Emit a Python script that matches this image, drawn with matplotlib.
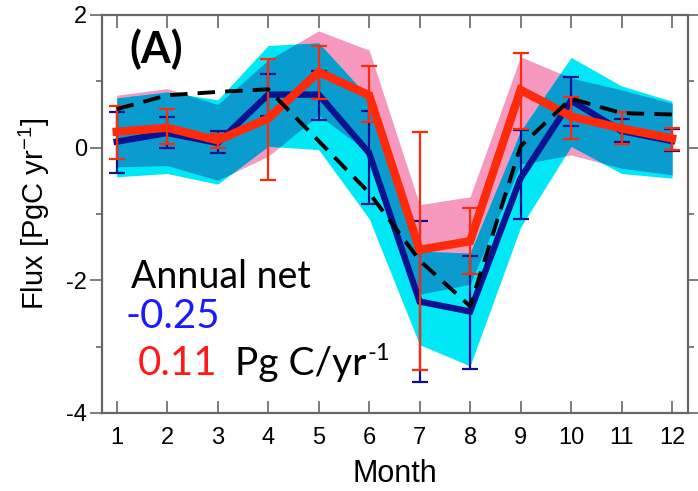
#!/usr/bin/env python3
"""Monthly carbon flux panel (A): two model ensembles with spread bands."""

import numpy as np
import matplotlib
matplotlib.use("Agg")
import matplotlib.pyplot as plt

# === DATA ===
months = np.arange(1, 13)

# red series and its error bars / band
red_flux = np.array([0.24, 0.30, 0.11, 0.44, 1.14, 0.79, -1.54, -1.41, 0.87, 0.47, 0.29, 0.14])
red_err_hi = np.array([0.63, 0.59, 0.21, 1.34, 1.53, 1.23, 0.23, -0.91, 1.43, 0.77, 0.53, 0.29])
red_err_lo = np.array([-0.17, 0.05, 0.00, -0.49, 0.74, 0.38, -3.35, -1.91, 0.28, 0.13, 0.06, -0.03])
red_band_hi = np.array([0.79, 0.89, 0.65, 1.32, 1.76, 1.47, -0.86, -0.74, 1.37, 1.05, 0.87, 0.67])
red_band_lo = np.array([-0.29, -0.27, -0.49, -0.13, 0.49, -0.08, -2.21, -2.06, -0.25, -0.11, -0.31, -0.41])

# navy series and its error bars / band
blue_flux = np.array([0.09, 0.22, 0.07, 0.80, 0.80, -0.08, -2.32, -2.47, -0.46, 0.71, 0.25, 0.10])
blue_err_hi = np.array([0.54, 0.46, 0.25, 1.11, 1.16, 0.55, -1.10, -1.64, 0.27, 1.07, 0.43, 0.28])
blue_err_lo = np.array([-0.38, 0.00, -0.08, 0.47, 0.42, -0.85, -3.54, -3.33, -1.08, 0.33, 0.08, -0.05])
blue_band_hi = np.array([0.75, 0.84, 0.72, 1.54, 1.58, 0.75, -1.56, -1.59, 0.25, 1.36, 0.93, 0.70])
blue_band_lo = np.array([-0.44, -0.39, -0.55, 0.02, -0.03, -1.07, -2.97, -3.29, -1.20, 0.02, -0.39, -0.46])

# dashed reference curve
ref_flux = np.array([0.58, 0.79, 0.84, 0.88, 0.10, -0.68, -1.70, -2.39, 0.02, 0.74, 0.52, 0.50])

annual_blue = "-0.25"
annual_red = "0.11"

# === STYLE ===
PINK = "#f799bf"
CYAN = "#00e8f6"
OVERLAP = "#0a9ccf"
NAVY = "#0a128f"
RED = "#ff2a0a"
GRAY = "#666666"

plt.rcParams["font.family"] = ["Liberation Sans", "DejaVu Sans"]
plt.rcParams["mathtext.fontset"] = "custom"
plt.rcParams["mathtext.rm"] = "Liberation Sans"
plt.rcParams["mathtext.it"] = "Liberation Sans"
plt.rcParams["axes.unicode_minus"] = False

fig = plt.figure(figsize=(6.98, 4.91), dpi=100)
ax = fig.add_axes([0.1466, 0.1589, 0.8386, 0.8106])

# bands: draw each, then the overlap in its own colour
xs = np.linspace(1, 12, 1101)
rh = np.interp(xs, months, red_band_hi)
rl = np.interp(xs, months, red_band_lo)
bh = np.interp(xs, months, blue_band_hi)
bl = np.interp(xs, months, blue_band_lo)
ax.fill_between(xs, rl, rh, color=PINK, lw=0, zorder=1)
ax.fill_between(xs, bl, bh, color=CYAN, lw=0, zorder=1)
top = np.minimum(rh, bh)
bot = np.maximum(rl, bl)
ax.fill_between(xs, bot, top, where=top > bot, color=OVERLAP, lw=0,
                interpolate=True, zorder=2)

# error bars and lines
ax.errorbar(months, blue_flux, yerr=[blue_flux - blue_err_lo, blue_err_hi - blue_flux],
            fmt="none", ecolor=NAVY, elinewidth=1.6, capsize=6, capthick=1.6, zorder=3)
ax.plot(months, blue_flux, color=NAVY, lw=4.6, solid_joinstyle="miter", zorder=4)
ax.errorbar(months, red_flux, yerr=[red_flux - red_err_lo, red_err_hi - red_flux],
            fmt="none", ecolor=RED, elinewidth=1.6, capsize=6, capthick=1.6, zorder=5)
ax.plot(months, red_flux, color=RED, lw=6, solid_joinstyle="miter", zorder=6)
ax.plot(months, ref_flux, color="black", lw=2.8, dashes=(4.5, 2.6), zorder=7)

# axes
ax.set_xlim(0.715, 12.31)
ax.set_ylim(-4, 2)
ax.set_xticks(months)
ax.set_yticks([-4, -2, 0, 2])
ax.set_yticks([-3, -1, 1], minor=True)
ax.tick_params(axis="x", which="major", direction="in", top=True, length=9,
               width=1.2, color=GRAY, labelsize=17, pad=10)
ax.tick_params(axis="y", which="major", direction="out", right=True, length=9,
               width=1.2, color=GRAY, labelsize=17, pad=2)
ax.tick_params(axis="y", which="minor", direction="out", right=True, length=4,
               width=1.2, color=GRAY)
for sp in ax.spines.values():
    sp.set_color(GRAY)
    sp.set_linewidth(1.6)

ax.set_xlabel("Month", fontsize=22, labelpad=7)
ax.set_ylabel(r"Flux [PgC yr$^{-1}$]", fontsize=21, labelpad=10)

# annotations
ax.text(0.047, 0.879, "(A)", transform=ax.transAxes, fontsize=31,
        fontweight="bold", family="Lato", zorder=10)
ax.text(0.049, 0.314, "Annual net", transform=ax.transAxes, fontsize=27,
        family="Lato", zorder=10)
ax.text(0.040, 0.214, annual_blue, transform=ax.transAxes, fontsize=29,
        family="Lato", color="#1a1aff", zorder=10)
ax.text(0.060, 0.095, annual_red, transform=ax.transAxes, fontsize=29,
        family="Lato", color="#ff1a1a", zorder=10)
unit = ax.text(0.227, 0.095, "Pg C/yr", transform=ax.transAxes, fontsize=28,
               family="Lato", zorder=10)
ax.annotate("-1", xy=(1, 0.5), xycoords=unit, xytext=(0.5, 0), textcoords="offset points",
            ha="left", va="bottom", fontsize=17, family="Lato", zorder=10)

fig.savefig("out.png", dpi=100)
